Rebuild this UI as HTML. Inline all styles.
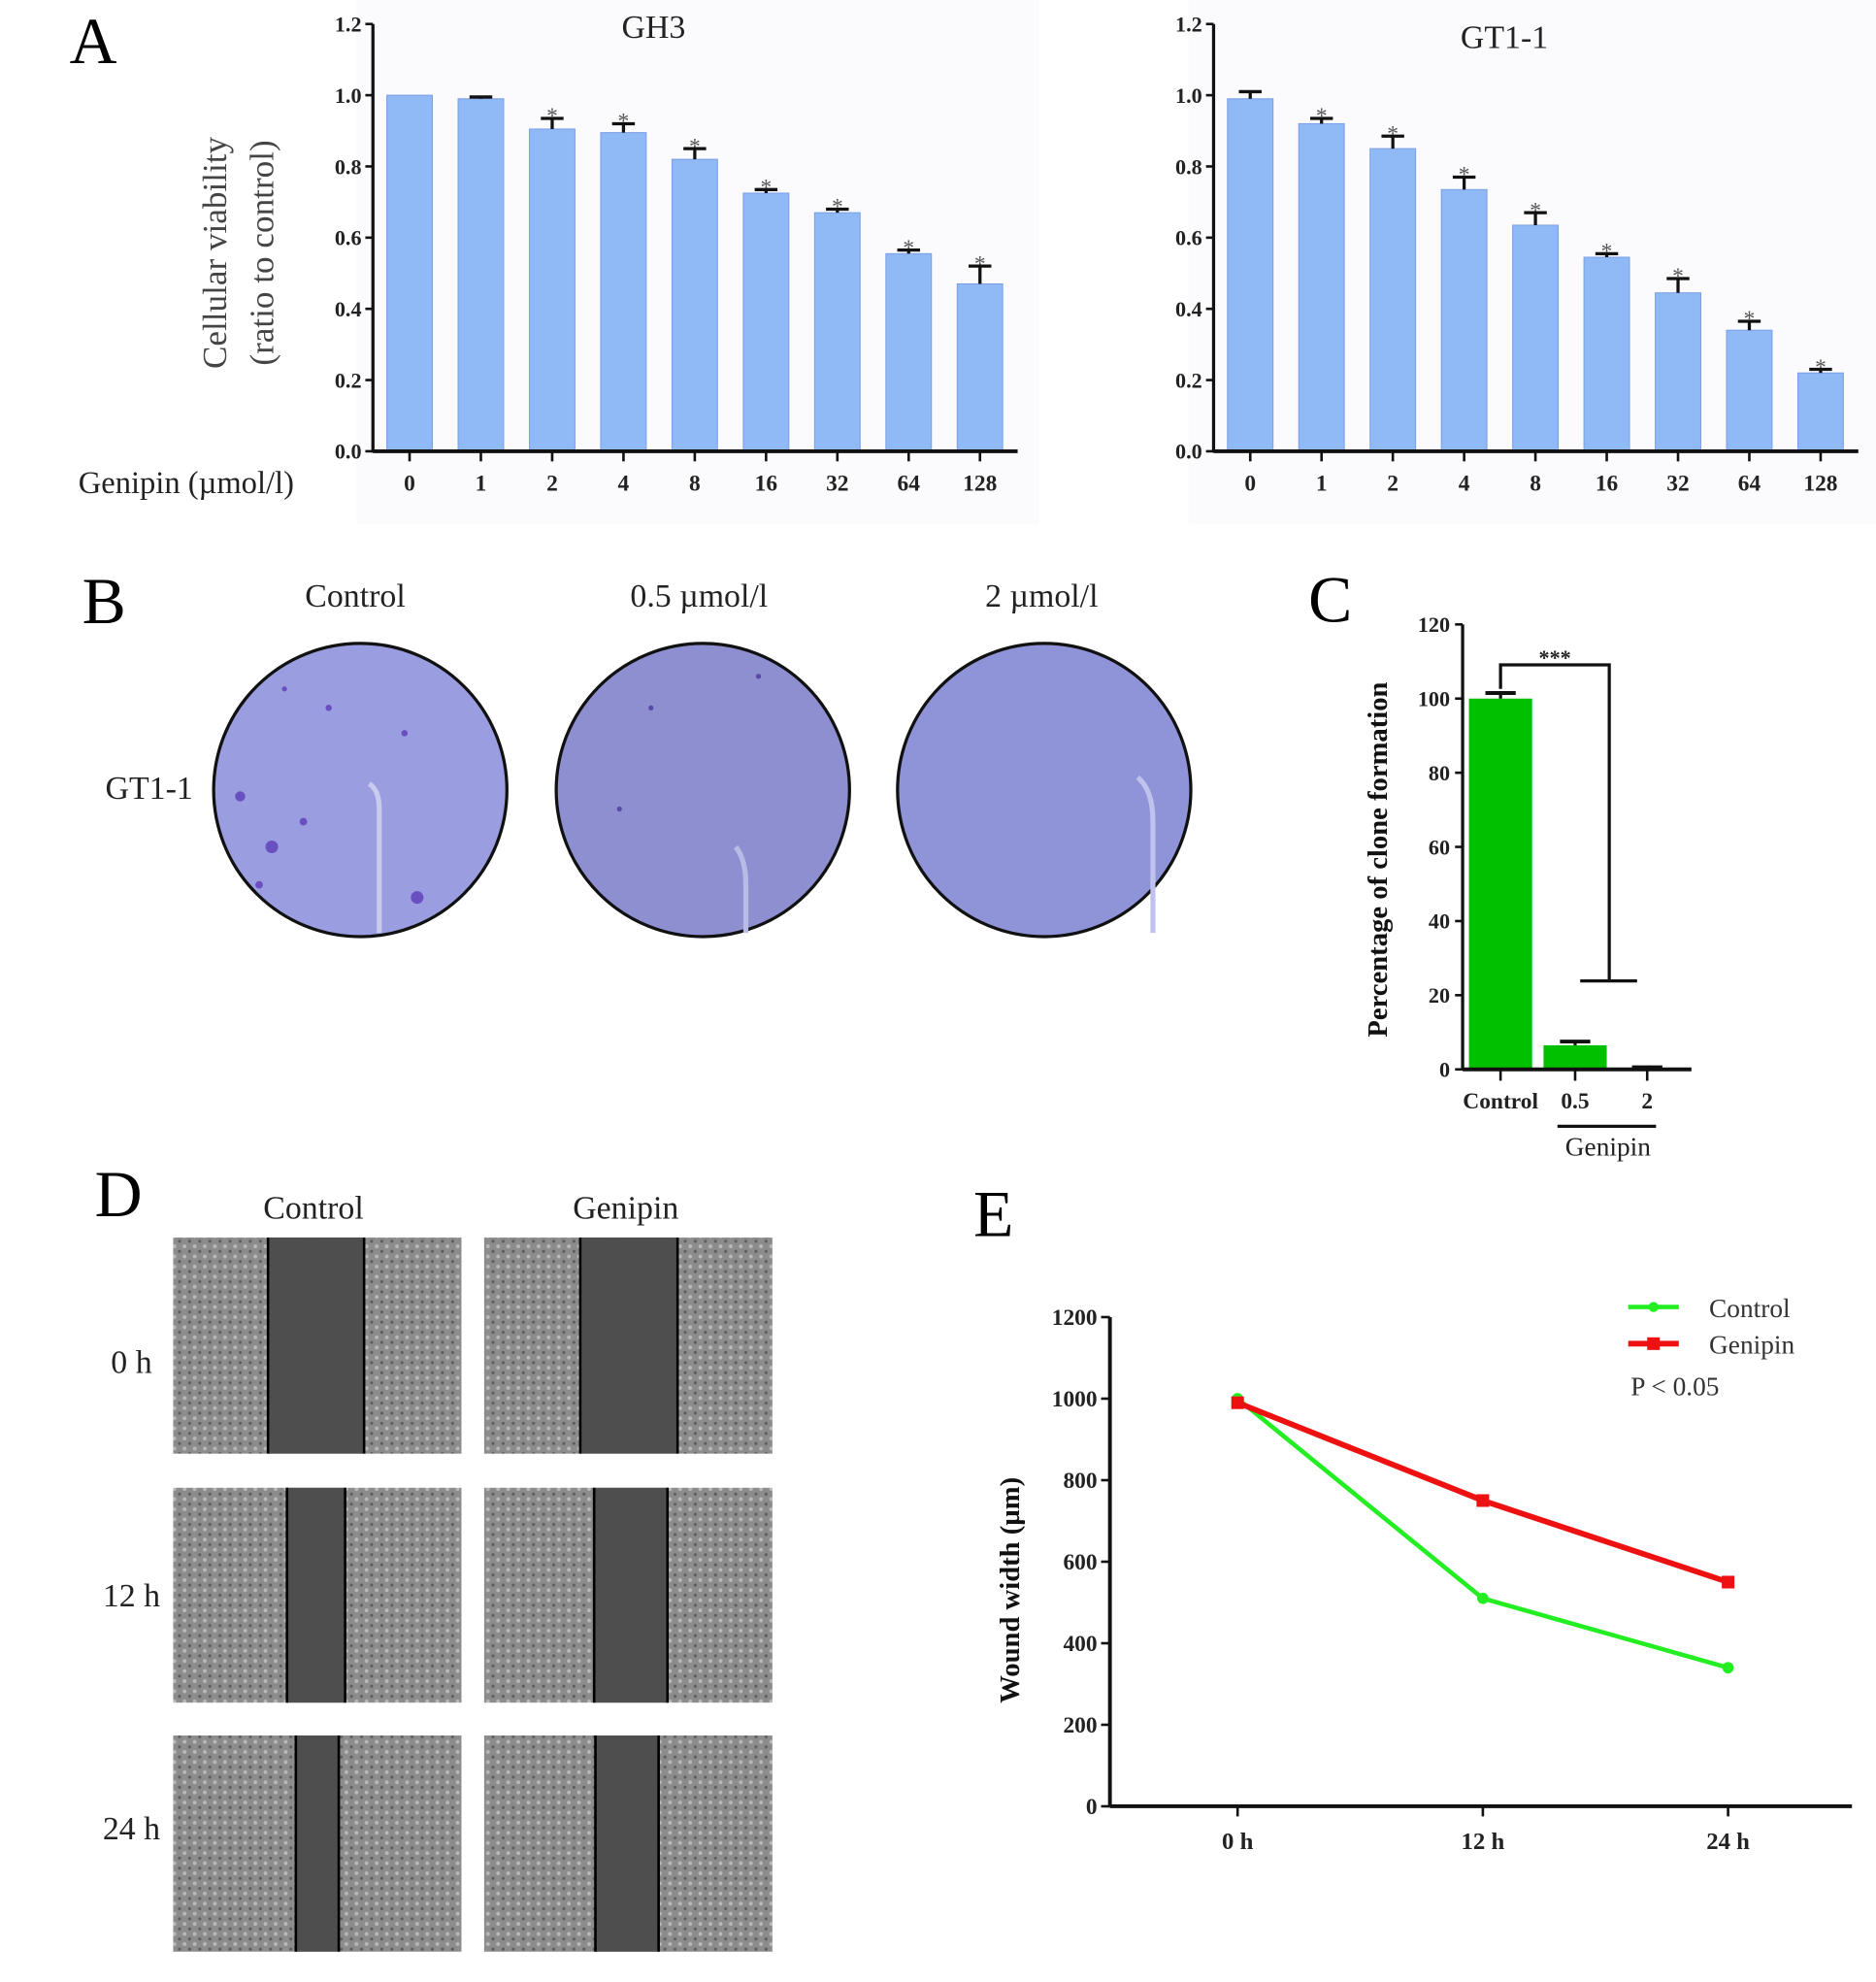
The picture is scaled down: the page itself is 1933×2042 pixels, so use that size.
<!DOCTYPE html>
<html><head><meta charset="utf-8"><style>
html,body{margin:0;padding:0;background:#fff;}
svg{display:block;}
text{font-family:"Liberation Serif",serif;}
</style></head><body>
<svg id="fig" width="1933" height="2042" viewBox="0 0 1484 1568" preserveAspectRatio="none" xmlns="http://www.w3.org/2000/svg">
<rect x="0" y="0" width="1484" height="1568" fill="#fff"/>
<rect x="282" y="0" width="540" height="415" fill="#fbfbfd"/>
<rect x="940" y="0" width="544" height="415" fill="#fbfbfd"/>
<text x="55" y="50" font-size="52">A</text>
<text x="65" y="493" font-size="52">B</text>
<text x="1035" y="492" font-size="52">C</text>
<text x="75" y="962" font-size="52">D</text>
<text x="770" y="978" font-size="52">E</text>
<g id="gA1"></g><g id="gA2"></g>
<text x="62" y="390" font-size="25" fill="#222">Genipin (µmol/l)</text>
<g fill="#444" font-size="27" text-anchor="middle">
<text transform="translate(179,200) rotate(-90)">Cellular viability</text>
<text transform="translate(216,200) rotate(-90)">(ratio to control)</text>
</g>
<g font-size="26" text-anchor="middle" fill="#222">
<text x="281" y="480">Control</text>
<text x="553" y="480">0.5 µmol/l</text>
<text x="824" y="480">2 µmol/l</text>
<text x="118" y="632">GT1-1</text>
</g>
<g>
<circle cx="285" cy="625" r="116" fill="#9a9ddf" stroke="#111" stroke-width="2.5"/>
<path d="M292 620 Q300 625 300 640 L300 738" stroke="#c8cbee" stroke-width="4" fill="none"/>
<g fill="#6a4fc0"><circle cx="190" cy="630" r="4"/><circle cx="215" cy="670" r="5"/><circle cx="240" cy="650" r="3"/><circle cx="330" cy="710" r="5"/><circle cx="205" cy="700" r="3"/><circle cx="260" cy="560" r="2.5"/><circle cx="320" cy="580" r="2.5"/><circle cx="225" cy="545" r="2"/></g>
</g>
<g>
<circle cx="556" cy="625" r="116" fill="#8d8fd0" stroke="#111" stroke-width="2.5"/>
<path d="M582 670 Q590 680 590 700 L590 738" stroke="#b8bbe6" stroke-width="4" fill="none"/>
<g fill="#5a48a8"><circle cx="515" cy="560" r="2"/><circle cx="600" cy="535" r="2"/><circle cx="490" cy="640" r="2"/></g>
</g>
<g>
<circle cx="826" cy="625" r="116" fill="#8f94d8" stroke="#111" stroke-width="2.5"/>
<path d="M900 615 Q912 625 912 650 L912 738" stroke="#bfc2ec" stroke-width="4" fill="none"/>
</g>
<g id="gC"></g>
<g font-size="26" text-anchor="middle" fill="#222">
<text x="248" y="964">Control</text>
<text x="495" y="964">Genipin</text>
<text x="104" y="1086">0 h</text>
<text x="104" y="1271">12 h</text>
<text x="104" y="1455">24 h</text>
</g>
<g id="gD"></g>
<g id="gE"></g>
<defs>
<pattern id="cells" width="8" height="8" patternUnits="userSpaceOnUse">
<rect width="8" height="8" fill="#8c8c8c"/><circle cx="2" cy="2" r="1.5" fill="#b8b8b8"/><circle cx="6" cy="6" r="1.2" fill="#5e5e5e"/>
</pattern>
</defs>
</svg>
<script>
const NS='http://www.w3.org/2000/svg';
function mk(p,t,a,txt){const e=document.createElementNS(NS,t);for(const k in a)e.setAttribute(k,a[k]);if(txt!==undefined)e.textContent=txt;p.appendChild(e);return e;}
const doseLabels=['0','1','2','4','8','16','32','64','128'];
const gh3Values=[1.0,0.99,0.905,0.895,0.82,0.725,0.67,0.555,0.47];
const gh3Errors=[0,0.005,0.03,0.025,0.03,0.01,0.01,0.01,0.05];
const gh3Stars=[0,0,1,1,1,1,1,1,1];
const gt1Values=[0.99,0.92,0.85,0.735,0.635,0.545,0.445,0.34,0.22];
const gt1Errors=[0.02,0.015,0.035,0.035,0.035,0.01,0.04,0.025,0.01];
const gt1Stars=[0,1,1,1,1,1,1,1,1];
const viabTicks=['0.0','0.2','0.4','0.6','0.8','1.0','1.2'];
const cloneCats=['Control','0.5','2'];
const cloneValues=[100,6.5,0.3];
const cloneErrors=[1.5,1,0];
const cloneTicks=[0,20,40,60,80,100,120];
const timeLabels=['0 h','12 h','24 h'];
const ctrlWidth=[1000,510,340];
const genWidth=[990,750,550];
const woundTicks=[0,200,400,600,800,1000,1200];

function barPanel(g,ax,title,tx,ty,vals,errs,stars){
  const y0=357,yTop=19,x0=ax,xEnd=ax+510;
  const ys=v=>y0-(v/1.2)*(y0-yTop);
  const xs=i=>ax+29+i*56.4;
  mk(g,'text',{x:tx,y:ty,'font-size':26,'text-anchor':'middle',fill:'#222'},title);
  vals.forEach((v,i)=>{
    const r=mk(g,'rect',{x:xs(i)-18,y:ys(v),width:36,height:y0-ys(v),fill:'#8fbaf5',stroke:'#7d9fe8','stroke-width':0.8});
    
    
    if(errs[i]>0){
      mk(g,'line',{x1:xs(i),y1:ys(v),x2:xs(i),y2:ys(v+errs[i]),stroke:'#111','stroke-width':2.5});
      mk(g,'line',{x1:xs(i)-9,y1:ys(v+errs[i]),x2:xs(i)+9,y2:ys(v+errs[i]),stroke:'#111','stroke-width':2.5});
    } else if(i>0){ mk(g,'line',{x1:xs(i)-9,y1:ys(v+0.003),x2:xs(i)+9,y2:ys(v+0.003),stroke:'#111','stroke-width':2.5}); }
    if(stars[i]){const s=mk(g,'text',{x:xs(i),y:ys(v+errs[i])+4,'font-size':18,'text-anchor':'middle',fill:'#555'},'*');
      
      }
    const t=mk(g,'text',{x:xs(i),y:388,'font-size':18,'font-weight':'bold','text-anchor':'middle',fill:'#222'},doseLabels[i]);
    
    
    mk(g,'line',{x1:xs(i),y1:y0,x2:xs(i),y2:y0+8,stroke:'#111','stroke-width':2});
  });
  viabTicks.forEach(l=>{const y=ys(parseFloat(l));
    mk(g,'line',{x1:x0-6,y1:y,x2:x0,y2:y,stroke:'#111','stroke-width':2});
    const t=mk(g,'text',{x:x0-9,y:y+6,'font-size':17,'font-weight':'bold','text-anchor':'end',fill:'#222'},l);
    
    });
  const ya=mk(g,'line',{x1:x0,y1:yTop,x2:x0,y2:y0+1,stroke:'#111','stroke-width':2.5});
  
  
  const xa=mk(g,'line',{x1:x0,y1:y0,x2:xEnd,y2:y0,stroke:'#111','stroke-width':3});
  
  
}
barPanel(document.getElementById('gA1'),295,'GH3',517,30,gh3Values,gh3Errors,gh3Stars);
barPanel(document.getElementById('gA2'),960,'GT1-1',1190,38,gt1Values,gt1Errors,gt1Stars);

(function(){
  const g=document.getElementById('gC');
  const x0=1157,y0=846,yTop=494;
  const ys=v=>y0-(v/120)*(y0-yTop);
  const xc=[1187,1246,1303];
  cloneValues.forEach((v,i)=>{
    const r=mk(g,'rect',{x:xc[i]-25,y:ys(v),width:50,height:Math.max(0,y0-ys(v)),fill:'#00c000'});
    
    
    if(cloneErrors[i]>0){mk(g,'line',{x1:xc[i],y1:ys(v),x2:xc[i],y2:ys(v+cloneErrors[i]),stroke:'#111','stroke-width':2.5});
      mk(g,'line',{x1:xc[i]-12,y1:ys(v+cloneErrors[i]),x2:xc[i]+12,y2:ys(v+cloneErrors[i]),stroke:'#111','stroke-width':3});}
    else mk(g,'line',{x1:xc[i]-12,y1:ys(v)-1,x2:xc[i]+12,y2:ys(v)-1,stroke:'#111','stroke-width':2.5});
    mk(g,'line',{x1:xc[i],y1:y0,x2:xc[i],y2:y0+9,stroke:'#111','stroke-width':2});
    const t=mk(g,'text',{x:xc[i],y:877,'font-size':18,'font-weight':'bold','text-anchor':'middle',fill:'#222'},cloneCats[i]);
    
    
  });
  cloneTicks.forEach(v=>{const y=ys(v);
    mk(g,'line',{x1:x0-6,y1:y,x2:x0,y2:y,stroke:'#111','stroke-width':2});
    const t=mk(g,'text',{x:x0-10,y:y+6,'font-size':17,'font-weight':'bold','text-anchor':'end',fill:'#222'},v);
    
    });
  mk(g,'line',{x1:x0,y1:yTop,x2:x0,y2:y0,stroke:'#111','stroke-width':2.5});
  mk(g,'line',{x1:x0,y1:y0,x2:1338,y2:y0,stroke:'#111','stroke-width':3});
  const br=mk(g,'path',{d:'M1187 545 L1187 526 L1273 526 L1273 776 M1250 776 L1295 776',fill:'none',stroke:'#111','stroke-width':2.5});
  
  
  mk(g,'text',{x:1230,y:526,'font-size':17,'font-weight':'bold','text-anchor':'middle',fill:'#222'},'***');
  mk(g,'line',{x1:1232,y1:891,x2:1310,y2:891,stroke:'#111','stroke-width':2.5});
  const gl=mk(g,'text',{x:1272,y:914,'font-size':21,'text-anchor':'middle',fill:'#222'},'Genipin');
  
  
  const yt=mk(g,'text',{transform:'translate(1097,680) rotate(-90)','font-size':22,'font-weight':'bold','text-anchor':'middle',fill:'#111'},'Percentage of clone formation');
  
  
})();

(function(){
  const g=document.getElementById('gD');
  const cols=[137,383],rows=[979,1177,1373],heights=[171,170,171];
  const bands=[[[212,288],[459,536]],[[227,273],[470,528]],[[234,268],[471,521]]];
  const names=['0h','12h','24h'];
  rows.forEach((y,r)=>cols.forEach((x,c)=>{
    const gg=mk(g,'g',{});
    
    
    mk(gg,'rect',{x:x,y:y,width:228,height:heights[r],fill:'url(#cells)'});
    const b=bands[r][c];
    mk(gg,'rect',{x:b[0],y:y,width:b[1]-b[0],height:heights[r],fill:'#4e4e4e'});
    mk(gg,'line',{x1:b[0],y1:y,x2:b[0],y2:y+heights[r],stroke:'#000','stroke-width':2});
    mk(gg,'line',{x1:b[1],y1:y,x2:b[1],y2:y+heights[r],stroke:'#000','stroke-width':2});
  }));
})();

(function(){
  const g=document.getElementById('gE');
  const x0=878,y0=1429,yTop=1042,xEnd=1465;
  const ys=v=>y0-(v/1200)*(y0-yTop);
  const xs=i=>979+i*194;
  woundTicks.forEach(v=>{const y=ys(v);
    mk(g,'line',{x1:x0-7,y1:y,x2:x0,y2:y,stroke:'#111','stroke-width':2});
    const t=mk(g,'text',{x:x0-10,y:y+6,'font-size':18,'font-weight':'bold','text-anchor':'end',fill:'#222'},v);
    
    });
  timeLabels.forEach((l,i)=>{mk(g,'line',{x1:xs(i),y1:y0,x2:xs(i),y2:y0+8,stroke:'#111','stroke-width':2});
    const t=mk(g,'text',{x:xs(i),y:y0+34,'font-size':19,'font-weight':'bold','text-anchor':'middle',fill:'#222'},l);
    
    });
  mk(g,'line',{x1:x0,y1:yTop,x2:x0,y2:y0,stroke:'#111','stroke-width':3});
  mk(g,'line',{x1:x0,y1:y0,x2:xEnd,y2:y0,stroke:'#111','stroke-width':3});
  const lc=mk(g,'polyline',{points:ctrlWidth.map((v,i)=>xs(i)+','+ys(v)).join(' '),fill:'none',stroke:'#22ee22','stroke-width':3.5});
  
  
  ctrlWidth.forEach((v,i)=>{const c=mk(g,'circle',{cx:xs(i),cy:ys(v),r:4.5,fill:'#22ee22'});
    
    });
  const lg=mk(g,'polyline',{points:genWidth.map((v,i)=>xs(i)+','+ys(v)).join(' '),fill:'none',stroke:'#ee1111','stroke-width':4.5});
  
  
  genWidth.forEach((v,i)=>{const c=mk(g,'rect',{x:xs(i)-5,y:ys(v)-5,width:10,height:10,fill:'#ee1111'});
    
    });
  const le1=mk(g,'g',{});
  
  
  mk(le1,'line',{x1:1288,y1:1034,x2:1328,y2:1034,stroke:'#22ee22','stroke-width':3.5});
  mk(le1,'circle',{cx:1308,cy:1034,r:4,fill:'#22ee22'});
  mk(le1,'text',{x:1352,y:1042,'font-size':21,fill:'#333'},'Control');
  const le2=mk(g,'g',{});
  
  
  mk(le2,'line',{x1:1288,y1:1063,x2:1328,y2:1063,stroke:'#ee1111','stroke-width':4.5});
  mk(le2,'rect',{x:1303,y:1058,width:10,height:10,fill:'#ee1111'});
  mk(le2,'text',{x:1352,y:1071,'font-size':21,fill:'#333'},'Genipin');
  const p=mk(g,'text',{x:1290,y:1104,'font-size':21,fill:'#333'},'P < 0.05');
  
  
  const yt=mk(g,'text',{transform:'translate(806,1258) rotate(-90)','font-size':22,'font-weight':'bold','text-anchor':'middle',fill:'#111'},'Wound width (µm)');
  
  
})();
</script>
</body></html>
